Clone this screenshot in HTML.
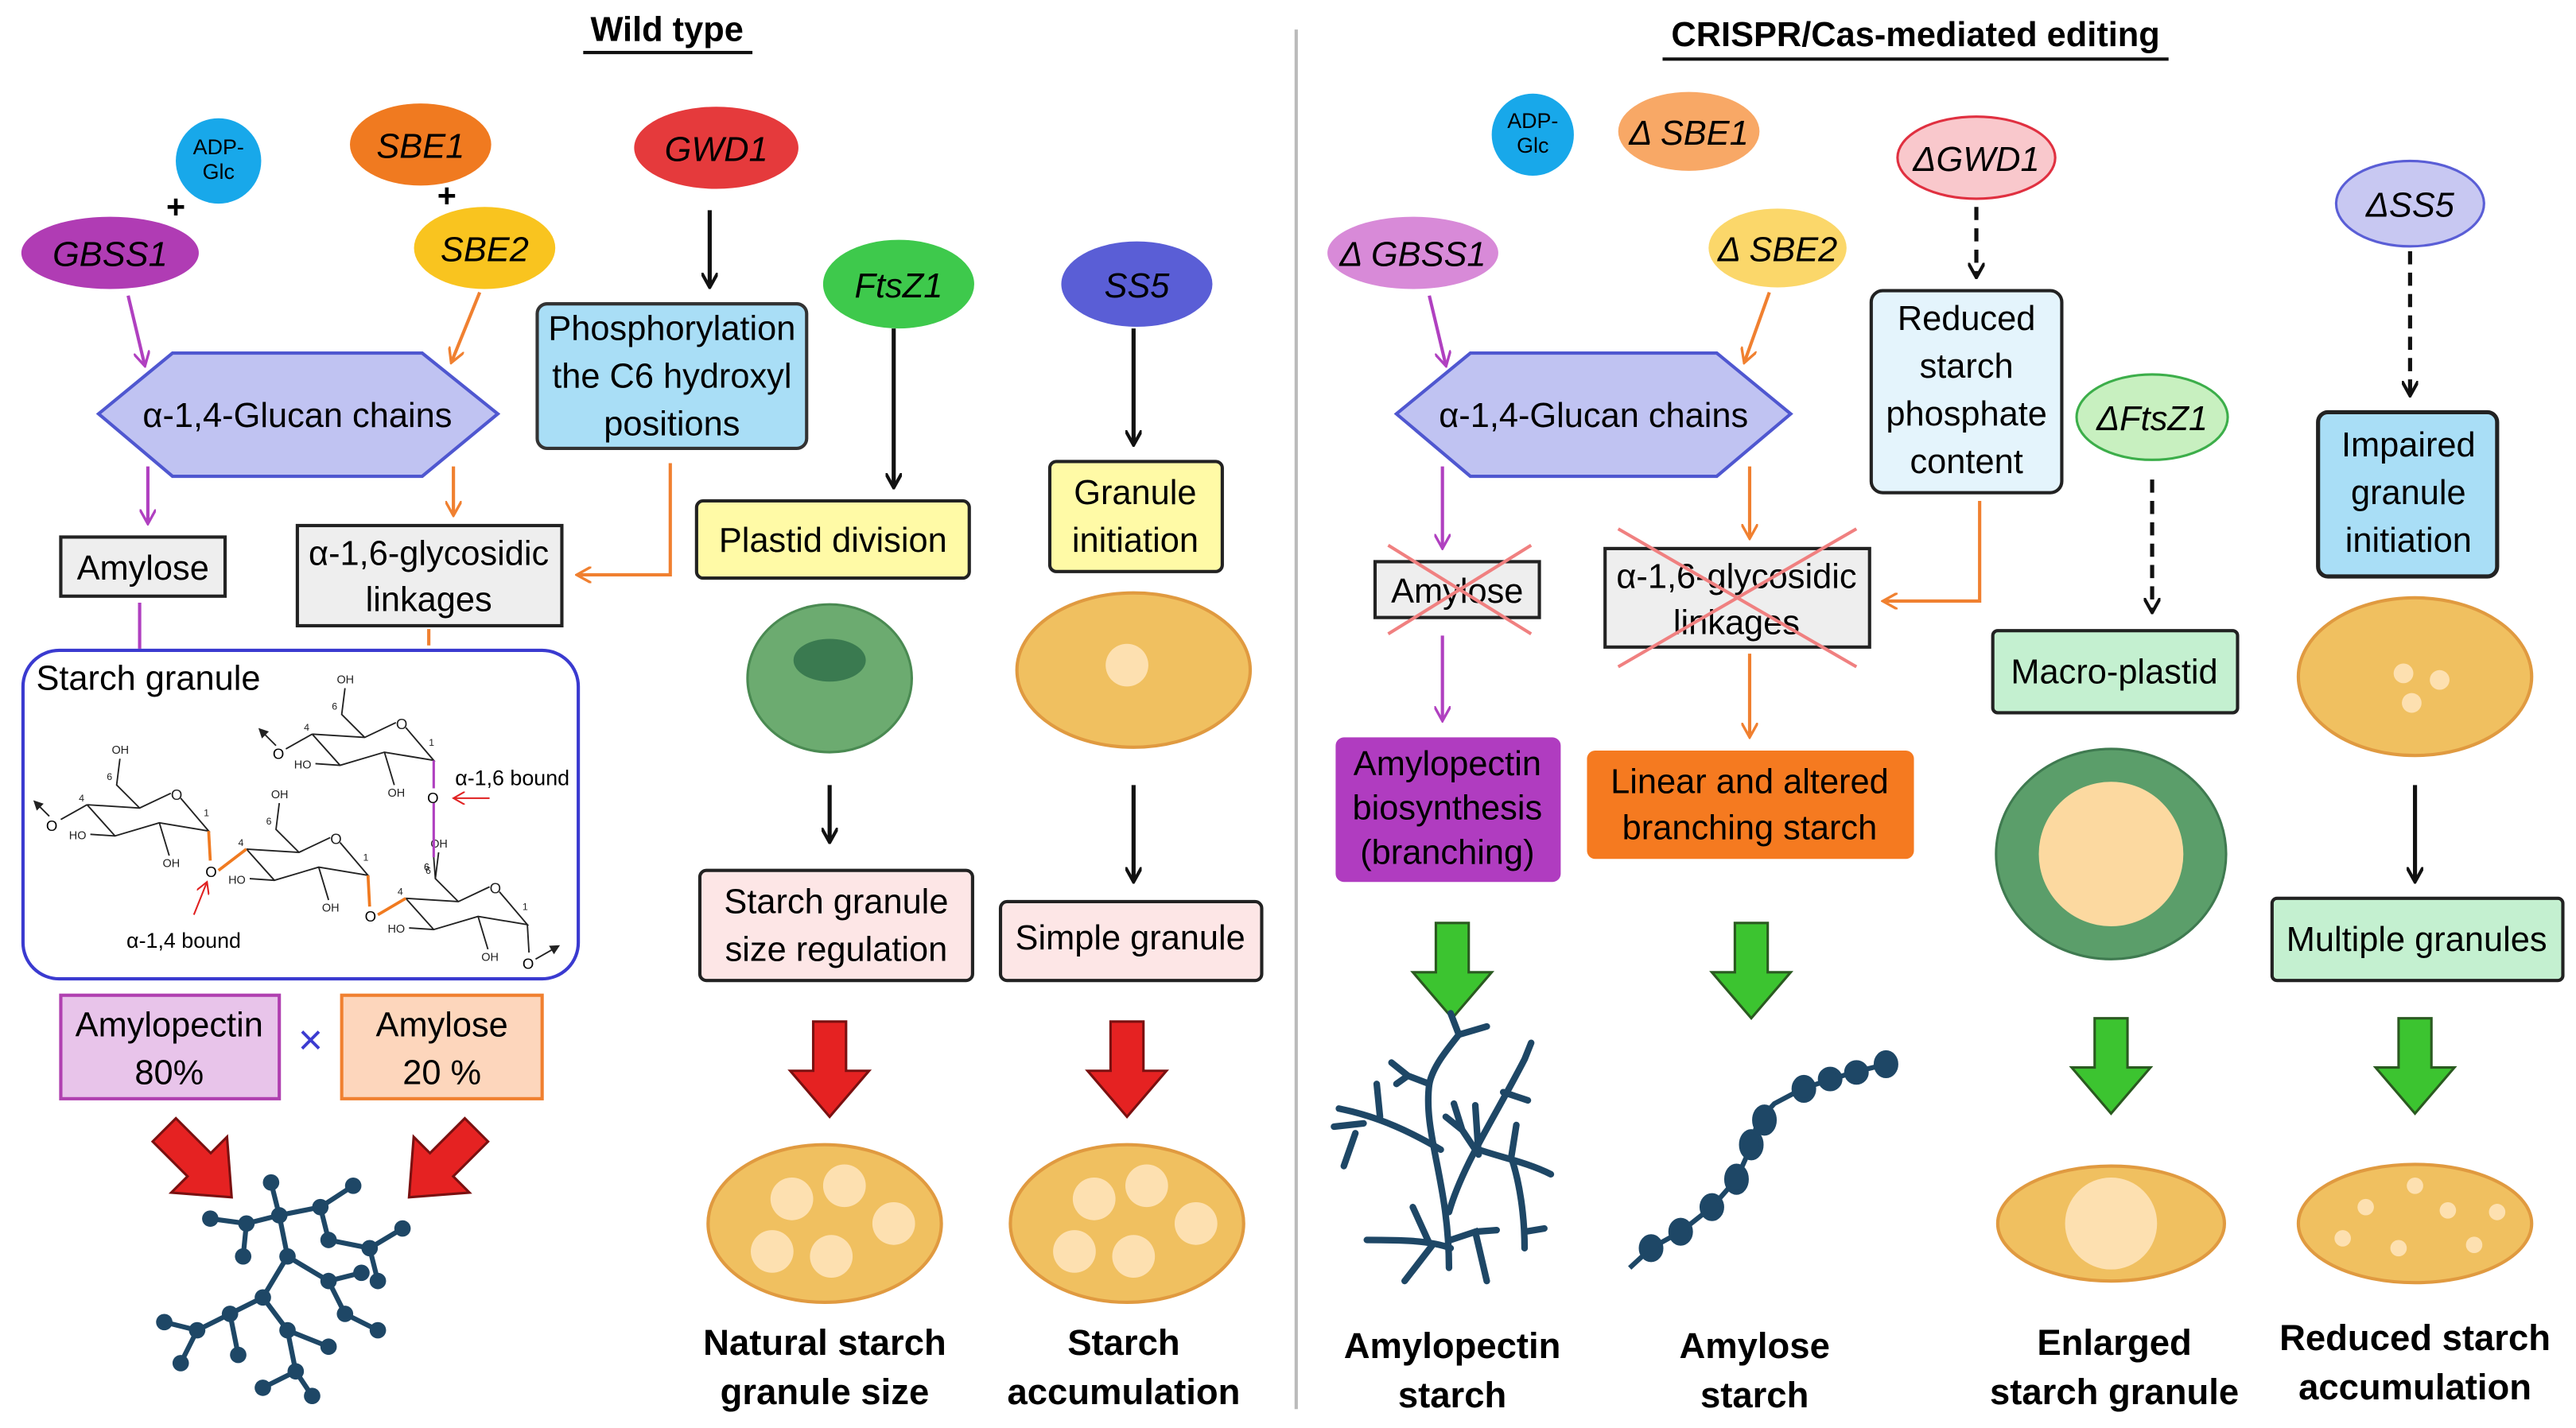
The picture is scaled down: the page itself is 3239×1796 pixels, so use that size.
<!DOCTYPE html>
<html><head><meta charset="utf-8"><style>
html,body{margin:0;padding:0;background:#fff}
svg{display:block}
text{font-family:"Liberation Sans",Arial,sans-serif}
</style></head><body>
<svg width="3239" height="1796" viewBox="0 0 1568 869.5" preserveAspectRatio="none" xmlns="http://www.w3.org/2000/svg">
<defs>
<marker id="ak" markerWidth="10" markerHeight="10" refX="8" refY="5" orient="auto" markerUnits="userSpaceOnUse"><path d="M0,0 L9,5 L0,10" fill="none" stroke="#111" stroke-width="2"/></marker>
<marker id="ap" markerWidth="10" markerHeight="10" refX="8" refY="5" orient="auto" markerUnits="userSpaceOnUse"><path d="M0,0 L9,5 L0,10" fill="none" stroke="#b040c0" stroke-width="1.6"/></marker>
<marker id="ao" markerWidth="10" markerHeight="10" refX="8" refY="5" orient="auto" markerUnits="userSpaceOnUse"><path d="M0,0 L9,5 L0,10" fill="none" stroke="#f08030" stroke-width="1.6"/></marker>
<marker id="ar" markerWidth="8" markerHeight="8" refX="7" refY="4" orient="auto" markerUnits="userSpaceOnUse"><path d="M0,0 L7,4 L0,8" fill="none" stroke="#e02020" stroke-width="1"/></marker>
<marker id="ab" markerWidth="6" markerHeight="6" refX="5" refY="3" orient="auto" markerUnits="userSpaceOnUse"><path d="M0,0 L6,3 L0,6 z" fill="#222"/></marker>
<g id="redA"><path d="M-10,0 h20 v30 h14 l-24,28 l-24,-28 h14 z" fill="#e52222" stroke="#7a1010" stroke-width="1.5"/></g>
<g id="grnA"><path d="M-10,0 h20 v30 h14 l-24,28 l-24,-28 h14 z" fill="#3cc430" stroke="#2a5a20" stroke-width="1.5"/></g>
<g id="ring" fill="none" stroke="#222" stroke-width="0.9">
<path d="M0,0 L32,2 L51,-7"/><path d="M57,-4 L74,16 L44,11 L17,19 L0,0"/>
<text x="51" y="-3" font-size="9" stroke="none" fill="#222">O</text>
<path d="M32,2 L18,-12 L20,-28"/><text x="15" y="-31" font-size="7" stroke="none" fill="#222">OH</text>
<text x="12" y="-15" font-size="6" stroke="none" fill="#222">6</text>
<text x="-5" y="-2" font-size="6" stroke="none" fill="#222">4</text>
<text x="71" y="7" font-size="6" stroke="none" fill="#222">1</text>
<path d="M17,19 L2,18"/><text x="-11" y="21" font-size="7" stroke="none" fill="#222">HO</text>
<path d="M44,11 L50,31"/><text x="46" y="38" font-size="7" stroke="none" fill="#222">OH</text>
</g>
</defs>

<!-- Titles -->
<text x="406" y="25" font-size="21" font-weight="bold" text-anchor="middle">Wild type</text>
<line x1="355" y1="32" x2="458" y2="32" stroke="#111" stroke-width="2"/>
<text x="1166" y="28" font-size="21" font-weight="bold" text-anchor="middle">CRISPR/Cas-mediated editing</text>
<line x1="1012" y1="36" x2="1320" y2="36" stroke="#111" stroke-width="2"/>
<line x1="789" y1="18" x2="789" y2="858" stroke="#bbb" stroke-width="2"/>

<!-- LEFT: enzymes -->
<circle cx="133" cy="98" r="26" fill="#18a8ea"/>
<text x="133" y="94" font-size="13" text-anchor="middle">ADP-</text><text x="133" y="109" font-size="13" text-anchor="middle">Glc</text>
<text x="107" y="133" font-size="20" font-weight="bold" text-anchor="middle">+</text>
<ellipse cx="67" cy="154" rx="54" ry="22" fill="#b03cb4"/>
<text x="67" y="162" font-size="21" font-style="italic" text-anchor="middle">GBSS1</text>
<ellipse cx="256" cy="88" rx="43" ry="25" fill="#f07a20"/>
<text x="256" y="96" font-size="21" font-style="italic" text-anchor="middle">SBE1</text>
<text x="272" y="126" font-size="20" font-weight="bold" text-anchor="middle">+</text>
<ellipse cx="295" cy="151" rx="43" ry="25" fill="#f9c41f"/>
<text x="295" y="159" font-size="21" font-style="italic" text-anchor="middle">SBE2</text>
<ellipse cx="436" cy="90" rx="50" ry="25" fill="#e53a3c"/>
<text x="436" y="98" font-size="21" font-style="italic" text-anchor="middle">GWD1</text>
<line x1="432" y1="128" x2="432" y2="174" stroke="#111" stroke-width="2.5" marker-end="url(#ak)"/>
<rect x="327" y="185" width="164" height="88" rx="6" fill="#a9def6" stroke="#333" stroke-width="2"/>
<text x="409" y="207" font-size="21" text-anchor="middle">Phosphorylation</text>
<text x="409" y="236" font-size="21" text-anchor="middle">the C6 hydroxyl</text>
<text x="409" y="265" font-size="21" text-anchor="middle">positions</text>
<ellipse cx="547" cy="173" rx="46" ry="27" fill="#3ec94c"/>
<text x="547" y="181" font-size="21" font-style="italic" text-anchor="middle">FtsZ1</text>
<line x1="544" y1="200" x2="544" y2="296" stroke="#111" stroke-width="2.5" marker-end="url(#ak)"/>
<rect x="424" y="305" width="166" height="47" rx="4" fill="#fffaa6" stroke="#222" stroke-width="2"/>
<text x="507" y="336" font-size="21" text-anchor="middle">Plastid division</text>
<ellipse cx="505" cy="413" rx="50" ry="45" fill="#6cab70" stroke="#4a8a52" stroke-width="1.5"/>
<ellipse cx="505" cy="402" rx="22" ry="13" fill="#3a7a50"/>
<line x1="505" y1="478" x2="505" y2="512" stroke="#111" stroke-width="2.5" marker-end="url(#ak)"/>
<rect x="426" y="530" width="166" height="67" rx="4" fill="#fde6e6" stroke="#222" stroke-width="2"/>
<text x="509" y="556" font-size="21" text-anchor="middle">Starch granule</text>
<text x="509" y="585" font-size="21" text-anchor="middle">size regulation</text>
<use href="#redA" x="505" y="622"/>
<ellipse cx="502" cy="745" rx="71" ry="48" fill="#f0c060" stroke="#e09a40" stroke-width="2"/>
<circle cx="482" cy="730" r="13" fill="#fde0b0"/><circle cx="514" cy="722" r="13" fill="#fde0b0"/><circle cx="544" cy="745" r="13" fill="#fde0b0"/><circle cx="470" cy="762" r="13" fill="#fde0b0"/><circle cx="506" cy="765" r="13" fill="#fde0b0"/>
<text x="502" y="825" font-size="22" font-weight="bold" text-anchor="middle">Natural starch</text>
<text x="502" y="855" font-size="22" font-weight="bold" text-anchor="middle">granule size</text>

<ellipse cx="692" cy="173" rx="46" ry="26" fill="#5a5ed6"/>
<text x="692" y="181" font-size="21" font-style="italic" text-anchor="middle">SS5</text>
<line x1="690" y1="200" x2="690" y2="270" stroke="#111" stroke-width="2.5" marker-end="url(#ak)"/>
<rect x="639" y="281" width="105" height="67" rx="4" fill="#fffaa6" stroke="#222" stroke-width="2"/>
<text x="691" y="307" font-size="21" text-anchor="middle">Granule</text>
<text x="691" y="336" font-size="21" text-anchor="middle">initiation</text>
<ellipse cx="690" cy="408" rx="71" ry="47" fill="#f0c060" stroke="#e09a40" stroke-width="2"/>
<circle cx="686" cy="405" r="13" fill="#fde0b0"/>
<line x1="690" y1="478" x2="690" y2="536" stroke="#111" stroke-width="2.5" marker-end="url(#ak)"/>
<rect x="609" y="549" width="159" height="48" rx="4" fill="#fde6e6" stroke="#222" stroke-width="2"/>
<text x="688" y="578" font-size="21" text-anchor="middle">Simple granule</text>
<use href="#redA" x="686" y="622"/>
<ellipse cx="686" cy="745" rx="71" ry="48" fill="#f0c060" stroke="#e09a40" stroke-width="2"/>
<circle cx="666" cy="730" r="13" fill="#fde0b0"/><circle cx="698" cy="722" r="13" fill="#fde0b0"/><circle cx="728" cy="745" r="13" fill="#fde0b0"/><circle cx="654" cy="762" r="13" fill="#fde0b0"/><circle cx="690" cy="765" r="13" fill="#fde0b0"/>
<text x="684" y="825" font-size="22" font-weight="bold" text-anchor="middle">Starch</text>
<text x="684" y="855" font-size="22" font-weight="bold" text-anchor="middle">accumulation</text>

<!-- Left hexagon -->
<polygon points="60,252 105,215 257,215 303,252 257,290 105,290" fill="#c0c3f2" stroke="#4f57d0" stroke-width="2"/>
<text x="181" y="260" font-size="21" text-anchor="middle">α-1,4-Glucan chains</text>
<line x1="78" y1="180" x2="88" y2="222" stroke="#b040c0" stroke-width="2" marker-end="url(#ap)"/>
<line x1="292" y1="178" x2="275" y2="220" stroke="#f08030" stroke-width="2" marker-end="url(#ao)"/>
<line x1="90" y1="284" x2="90" y2="318" stroke="#b040c0" stroke-width="2" marker-end="url(#ap)"/>
<line x1="276" y1="284" x2="276" y2="313" stroke="#f08030" stroke-width="2" marker-end="url(#ao)"/>
<rect x="37" y="327" width="100" height="36" fill="#eee" stroke="#222" stroke-width="2"/>
<text x="87" y="353" font-size="21" text-anchor="middle">Amylose</text>
<rect x="181" y="320" width="161" height="61" fill="#eee" stroke="#222" stroke-width="2"/>
<text x="261" y="344" font-size="21" text-anchor="middle">α-1,6-glycosidic</text>
<text x="261" y="372" font-size="21" text-anchor="middle">linkages</text>
<polyline points="408,282 408,350 352,350" fill="none" stroke="#f08030" stroke-width="2" marker-end="url(#ao)"/>
<line x1="85" y1="367" x2="85" y2="395" stroke="#b040c0" stroke-width="2"/>
<line x1="261" y1="383" x2="261" y2="393" stroke="#f08030" stroke-width="2"/>
<rect x="14" y="396" width="338" height="200" rx="22" fill="#fff" stroke="#3a3ad0" stroke-width="2"/>
<text x="22" y="420" font-size="21">Starch granule</text>
<use href="#ring" x="53" y="490"/>
<use href="#ring" x="150" y="517"/>
<use href="#ring" x="247" y="547"/>
<use href="#ring" x="190" y="447"/>
<path d="M127,506 L128,524 M133,530 L150,517" fill="none" stroke="#f07a20" stroke-width="1.8"/>
<text x="125" y="534" font-size="9">O</text>
<path d="M224,533 L225,552 M230,557 L247,547" fill="none" stroke="#f07a20" stroke-width="1.8"/>
<text x="222" y="561" font-size="9">O</text>
<path d="M264,463 L264,480 M264,489 L264,522" fill="none" stroke="#b040c0" stroke-width="1.5"/>
<path d="M264,522 L265,535" fill="none" stroke="#222" stroke-width="0.9"/>
<text x="260" y="489" font-size="9">O</text>
<text x="258" y="530" font-size="6">6</text>
<path d="M321,563 L322,580" fill="none" stroke="#222" stroke-width="0.9"/>
<text x="318" y="590" font-size="9">O</text>
<line x1="326" y1="584" x2="340" y2="576" stroke="#222" stroke-width="0.9" marker-end="url(#ab)"/>
<text x="28" y="506" font-size="9">O</text>
<line x1="53" y1="490" x2="37" y2="499" stroke="#222" stroke-width="0.9"/>
<line x1="30" y1="497" x2="21" y2="488" stroke="#222" stroke-width="0.9" marker-end="url(#ab)"/>
<text x="166" y="462" font-size="9">O</text>
<line x1="190" y1="447" x2="174" y2="456" stroke="#222" stroke-width="0.9"/>
<line x1="168" y1="454" x2="158" y2="444" stroke="#222" stroke-width="0.9" marker-end="url(#ab)"/>
<text x="277" y="478" font-size="13">α-1,6 bound</text>
<line x1="298" y1="486" x2="276" y2="486" stroke="#e02020" stroke-width="1" marker-end="url(#ar)"/>
<text x="77" y="577" font-size="13">α-1,4 bound</text>
<line x1="118" y1="557" x2="126" y2="537" stroke="#e02020" stroke-width="1" marker-end="url(#ar)"/>

<rect x="37" y="606" width="133" height="63" fill="#e8c4ea" stroke="#b040b0" stroke-width="2"/>
<text x="103" y="631" font-size="21" text-anchor="middle">Amylopectin</text>
<text x="103" y="660" font-size="21" text-anchor="middle">80%</text>
<text x="189" y="642" font-size="26" fill="#3a3ad0" text-anchor="middle">×</text>
<rect x="208" y="606" width="122" height="63" fill="#fdd6bc" stroke="#f08030" stroke-width="2"/>
<text x="269" y="631" font-size="21" text-anchor="middle">Amylose</text>
<text x="269" y="660" font-size="21" text-anchor="middle">20 %</text>
<use href="#redA" transform="translate(100,688) rotate(-45)"/>
<use href="#redA" transform="translate(290,688) rotate(45)"/>
<!-- branched molecule -->
<g stroke="#1e4766" stroke-width="3" fill="none">
<path d="M170,740 L165,720 M170,740 L150,745 L128,742 M150,745 L148,765 M170,740 L195,735 L215,722 M195,735 L200,755 L225,760 L245,748 M225,760 L230,780 M170,740 L175,765 L160,790 L140,800 L120,810 L100,805 M140,800 L145,825 M175,765 L200,780 L210,800 L230,810 M200,780 L220,775 M160,790 L175,810 L180,835 L190,850 M175,810 L200,820 M120,810 L110,830 M180,835 L160,845"/>
</g>
<g fill="#1e4766">
<circle cx="165" cy="720" r="5"/><circle cx="128" cy="742" r="5"/><circle cx="148" cy="765" r="5"/><circle cx="215" cy="722" r="5"/><circle cx="245" cy="748" r="5"/><circle cx="230" cy="780" r="5"/><circle cx="100" cy="805" r="5"/><circle cx="145" cy="825" r="5"/><circle cx="230" cy="810" r="5"/><circle cx="220" cy="775" r="5"/><circle cx="190" cy="850" r="5"/><circle cx="200" cy="820" r="5"/><circle cx="110" cy="830" r="5"/><circle cx="160" cy="845" r="5"/><circle cx="170" cy="740" r="5"/><circle cx="150" cy="745" r="5"/><circle cx="195" cy="735" r="5"/><circle cx="200" cy="755" r="5"/><circle cx="225" cy="760" r="5"/><circle cx="175" cy="765" r="5"/><circle cx="160" cy="790" r="5"/><circle cx="140" cy="800" r="5"/><circle cx="120" cy="810" r="5"/><circle cx="200" cy="780" r="5"/><circle cx="210" cy="800" r="5"/><circle cx="175" cy="810" r="5"/><circle cx="180" cy="835" r="5"/>
</g>

<!-- RIGHT -->
<circle cx="933" cy="82" r="25" fill="#18a8ea"/>
<text x="933" y="78" font-size="13" text-anchor="middle">ADP-</text><text x="933" y="93" font-size="13" text-anchor="middle">Glc</text>
<ellipse cx="1028" cy="80" rx="43" ry="24" fill="#f8a866"/>
<text x="1028" y="88" font-size="21" font-style="italic" text-anchor="middle">Δ SBE1</text>
<ellipse cx="1203" cy="96" rx="48" ry="25" fill="#f9c8cc" stroke="#e03040" stroke-width="1.5"/>
<text x="1203" y="104" font-size="21" font-style="italic" text-anchor="middle">ΔGWD1</text>
<ellipse cx="860" cy="154" rx="52" ry="22" fill="#d88ad8"/>
<text x="860" y="162" font-size="21" font-style="italic" text-anchor="middle">Δ GBSS1</text>
<ellipse cx="1082" cy="151" rx="42" ry="24" fill="#fbd76a"/>
<text x="1082" y="159" font-size="21" font-style="italic" text-anchor="middle">Δ SBE2</text>
<ellipse cx="1467" cy="124" rx="45" ry="26" fill="#c8c8f2" stroke="#5a5ed6" stroke-width="1.5"/>
<text x="1467" y="132" font-size="21" font-style="italic" text-anchor="middle">ΔSS5</text>
<line x1="1203" y1="126" x2="1203" y2="168" stroke="#111" stroke-width="2.5" stroke-dasharray="8,5" marker-end="url(#ak)"/>
<rect x="1139" y="177" width="116" height="123" rx="7" fill="#e4f4fc" stroke="#222" stroke-width="2"/>
<text x="1197" y="201" font-size="21" text-anchor="middle">Reduced</text>
<text x="1197" y="230" font-size="21" text-anchor="middle">starch</text>
<text x="1197" y="259" font-size="21" text-anchor="middle">phosphate</text>
<text x="1197" y="288" font-size="21" text-anchor="middle">content</text>
<polyline points="1205,305 1205,366 1147,366" fill="none" stroke="#f08030" stroke-width="2" marker-end="url(#ao)"/>

<polygon points="850,252 895,215 1045,215 1090,252 1045,290 895,290" fill="#c0c3f2" stroke="#4f57d0" stroke-width="2"/>
<text x="970" y="260" font-size="21" text-anchor="middle">α-1,4-Glucan chains</text>
<line x1="870" y1="180" x2="880" y2="222" stroke="#b040c0" stroke-width="2" marker-end="url(#ap)"/>
<line x1="1077" y1="178" x2="1062" y2="220" stroke="#f08030" stroke-width="2" marker-end="url(#ao)"/>
<line x1="878" y1="284" x2="878" y2="333" stroke="#b040c0" stroke-width="2" marker-end="url(#ap)"/>
<line x1="1065" y1="284" x2="1065" y2="327" stroke="#f08030" stroke-width="2" marker-end="url(#ao)"/>
<rect x="837" y="342" width="100" height="34" fill="#eee" stroke="#222" stroke-width="2"/>
<text x="887" y="367" font-size="21" text-anchor="middle">Amylose</text>
<line x1="845" y1="332" x2="932" y2="386" stroke="#f08080" stroke-width="2"/><line x1="932" y1="332" x2="845" y2="386" stroke="#f08080" stroke-width="2"/>
<rect x="977" y="334" width="161" height="60" fill="#eee" stroke="#222" stroke-width="2"/>
<text x="1057" y="358" font-size="21" text-anchor="middle">α-1,6-glycosidic</text>
<text x="1057" y="386" font-size="21" text-anchor="middle">linkages</text>
<line x1="985" y1="322" x2="1130" y2="406" stroke="#f08080" stroke-width="2"/><line x1="1130" y1="322" x2="985" y2="406" stroke="#f08080" stroke-width="2"/>
<line x1="878" y1="387" x2="878" y2="438" stroke="#b040c0" stroke-width="2" marker-end="url(#ap)"/>
<line x1="1065" y1="398" x2="1065" y2="448" stroke="#f08030" stroke-width="2" marker-end="url(#ao)"/>
<rect x="813" y="449" width="137" height="88" rx="5" fill="#b03cc0"/>
<text x="881" y="472" font-size="21" text-anchor="middle">Amylopectin</text>
<text x="881" y="499" font-size="21" text-anchor="middle">biosynthesis</text>
<text x="881" y="526" font-size="21" text-anchor="middle">(branching)</text>
<rect x="966" y="457" width="199" height="66" rx="5" fill="#f57a20"/>
<text x="1065" y="483" font-size="21" text-anchor="middle">Linear and altered</text>
<text x="1065" y="511" font-size="21" text-anchor="middle">branching starch</text>
<use href="#grnA" x="884" y="562"/>
<use href="#grnA" x="1066" y="562"/>
<!-- tree -->
<g stroke="#1e4766" stroke-width="4" fill="none" stroke-linecap="round">
<path d="M882,772 C882,720 866,690 870,660 C872,650 880,640 888,630"/>
<path d="M888,630 L883,617 M888,630 L905,625 M870,660 L857,655 L847,647 M857,655 L850,660"/>
<path d="M882,738 C890,710 910,680 928,645 M915,665 L930,670 M928,645 L932,635"/>
<path d="M900,703 L890,688 L885,672 M890,688 L880,680 M900,703 L898,673"/>
<path d="M900,700 C915,705 930,708 944,715 M920,705 C925,720 928,740 928,760 M928,750 L940,748 M920,704 L923,685"/>
<path d="M877,700 C860,690 840,680 815,675 M840,680 L838,660 M825,690 L818,710 M830,684 L812,686"/>
<path d="M883,760 C870,755 850,755 832,755 M870,757 L860,735 M883,755 L898,750 L905,780 M898,750 L911,749 M872,758 L855,780"/>
</g>
<!-- chain -->
<g stroke="#1e4766" stroke-width="3" fill="#1e4766">
<polyline points="992,772 1005,760 1023,750 1042,735 1057,718 1065,700 1070,683 1080,672 1097,663 1112,658 1128,653 1148,648" fill="none"/>
<ellipse cx="1005" cy="760" rx="6" ry="7"/><ellipse cx="1023" cy="750" rx="6" ry="7"/><ellipse cx="1042" cy="735" rx="6" ry="7"/><ellipse cx="1057" cy="718" rx="6" ry="8"/><ellipse cx="1066" cy="697" rx="6" ry="8"/><ellipse cx="1074" cy="682" rx="6" ry="8"/><ellipse cx="1098" cy="663" rx="6" ry="7"/><ellipse cx="1114" cy="657" rx="6" ry="6"/><ellipse cx="1130" cy="653" rx="6" ry="6"/><ellipse cx="1148" cy="648" rx="6" ry="7"/>
</g>
<text x="884" y="827" font-size="22" font-weight="bold" text-anchor="middle">Amylopectin</text>
<text x="884" y="857" font-size="22" font-weight="bold" text-anchor="middle">starch</text>
<text x="1068" y="827" font-size="22" font-weight="bold" text-anchor="middle">Amylose</text>
<text x="1068" y="857" font-size="22" font-weight="bold" text-anchor="middle">starch</text>

<ellipse cx="1310" cy="254" rx="46" ry="26" fill="#c8f0c0" stroke="#3cae4a" stroke-width="1.5"/>
<text x="1310" y="262" font-size="21" font-style="italic" text-anchor="middle">ΔFtsZ1</text>
<line x1="1310" y1="292" x2="1310" y2="372" stroke="#111" stroke-width="2.5" stroke-dasharray="8,5" marker-end="url(#ak)"/>
<rect x="1213" y="384" width="149" height="50" rx="3" fill="#c4f0d0" stroke="#222" stroke-width="2"/>
<text x="1287" y="416" font-size="21" text-anchor="middle">Macro-plastid</text>
<ellipse cx="1285" cy="520" rx="70" ry="64" fill="#5b9e6a" stroke="#3f7a50" stroke-width="1.5"/>
<circle cx="1285" cy="520" r="44" fill="#fcd9a0"/>
<use href="#grnA" x="1285" y="620"/>
<ellipse cx="1285" cy="745" rx="69" ry="35" fill="#f0c060" stroke="#e09a40" stroke-width="2"/>
<circle cx="1285" cy="745" r="28" fill="#fde0b0"/>
<text x="1287" y="825" font-size="22" font-weight="bold" text-anchor="middle">Enlarged</text>
<text x="1287" y="855" font-size="22" font-weight="bold" text-anchor="middle">starch granule</text>

<line x1="1467" y1="153" x2="1467" y2="240" stroke="#111" stroke-width="2.5" stroke-dasharray="8,5" marker-end="url(#ak)"/>
<rect x="1411" y="251" width="109" height="100" rx="6" fill="#a9def6" stroke="#222" stroke-width="2.5"/>
<text x="1466" y="278" font-size="21" text-anchor="middle">Impaired</text>
<text x="1466" y="307" font-size="21" text-anchor="middle">granule</text>
<text x="1466" y="336" font-size="21" text-anchor="middle">initiation</text>
<ellipse cx="1470" cy="412" rx="71" ry="48" fill="#f0c060" stroke="#e09a40" stroke-width="2"/>
<circle cx="1463" cy="410" r="6" fill="#fde0b0"/><circle cx="1485" cy="414" r="6" fill="#fde0b0"/><circle cx="1468" cy="428" r="6" fill="#fde0b0"/>
<line x1="1470" y1="478" x2="1470" y2="536" stroke="#111" stroke-width="2.5" marker-end="url(#ak)"/>
<rect x="1383" y="547" width="177" height="50" rx="3" fill="#c4f0d0" stroke="#222" stroke-width="2"/>
<text x="1471" y="579" font-size="21" text-anchor="middle">Multiple granules</text>
<use href="#grnA" x="1470" y="620"/>
<ellipse cx="1470" cy="745" rx="71" ry="36" fill="#f0c060" stroke="#e09a40" stroke-width="2"/>
<circle cx="1440" cy="735" r="5" fill="#fde0b0"/><circle cx="1470" cy="722" r="5" fill="#fde0b0"/><circle cx="1490" cy="737" r="5" fill="#fde0b0"/><circle cx="1520" cy="738" r="5" fill="#fde0b0"/><circle cx="1426" cy="754" r="5" fill="#fde0b0"/><circle cx="1460" cy="760" r="5" fill="#fde0b0"/><circle cx="1506" cy="758" r="5" fill="#fde0b0"/>
<text x="1470" y="822" font-size="22" font-weight="bold" text-anchor="middle">Reduced starch</text>
<text x="1470" y="852" font-size="22" font-weight="bold" text-anchor="middle">accumulation</text>
</svg>
</body></html>
